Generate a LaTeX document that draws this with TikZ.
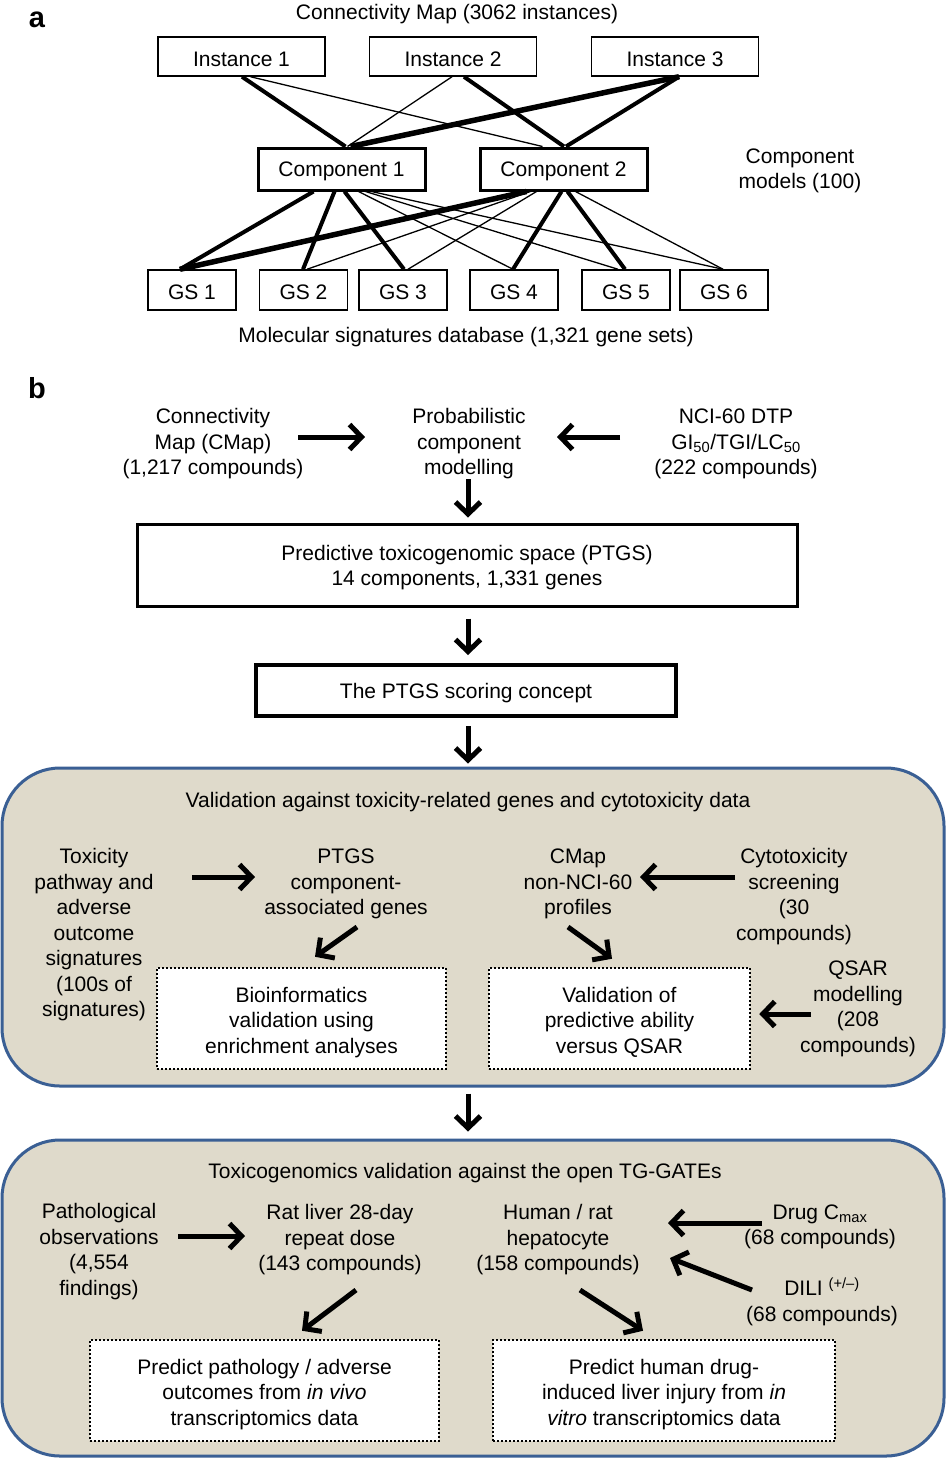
\documentclass[tikz,border=0pt]{standalone}
\usepackage{fontspec}
\setmainfont{Liberation Sans}
\usetikzlibrary{arrows.meta,calc}
\definecolor{panelfill}{RGB}{223,218,203}
\definecolor{panelborder}{RGB}{58,95,148}
\newcommand\mlines[2][-3pt]{\raisebox{#1}[\height][\depth]{\begin{tabular}{@{}c@{}}#2\end{tabular}}}
\begin{document}
\begin{tikzpicture}[x=1pt,y=-1pt,
 every node/.style={font=\fontsize{21}{25.5}\selectfont, inner sep=0pt,
   execute at begin node={\rule{0pt}{19.5pt}}},
 lbl/.style={font=\fontsize{29}{30}\bfseries\selectfont},
 thinbox/.style={draw, line width=1.5pt, minimum width=167pt, minimum height=39pt},
 compbox/.style={draw, line width=3pt, minimum width=167pt, minimum height=42pt},
 gsbox/.style={draw, line width=1.5pt, minimum width=88pt, minimum height=40pt},
 thinl/.style={line width=1.3pt},
 thickl/.style={line width=4pt},
 vthickl/.style={line width=5.5pt},
 bigarrow/.style={line width=5pt, -{Straight Barb[length=12pt,width=25pt]}},
 dotbox/.style={draw, line width=2.5pt, dash pattern=on 2pt off 2pt, fill=white},
 panel/.style={draw=panelborder, line width=3pt, fill=panelfill, rounded corners=58pt},
]
\useasboundingbox (0,0) rectangle (946,1459);
\fill[white] (0,0) rectangle (946,1459);

% ---------- part a ----------
\node[lbl] (la) at (37,18) {a};
\node (cmtitle) at (457,12) {Connectivity Map (3062 instances)};
\node[thinbox] (i1) at (241.5,56.5) {Instance 1};
\node[thinbox] (i2) at (453,56.5) {Instance 2};
\node[thinbox] (i3) at (675,56.5) {Instance 3};
\node[compbox] (c1) at (341.5,169) {Component 1};
\node[compbox] (c2) at (563.5,169) {Component 2};
\node (cmod) at (800,168) {\mlines{Component\\models (100)}};
\node[gsbox] (g1) at (192,290) {GS 1};
\node[gsbox] (g2) at (303.5,290) {GS 2};
\node[gsbox] (g3) at (403,290) {GS 3};
\node[gsbox] (g4) at (514,290) {GS 4};
\node[gsbox] (g5) at (626,290) {GS 5};
\node[gsbox] (g6) at (724,290) {GS 6};
\node (msd) at (466,335) {Molecular signatures database (1,321 gene sets)};

% instance -> component
\draw[thickl] ($(i1.south)+(0.5,0)$) -- ($(c1.north)+(4,0)$);
\draw[thinl] ($(i1.south)+(9,0)$) -- ($(c2.north)+(-21,0)$);
\draw[thinl] ($(i2.south)+(-1,0)$) -- ($(c1.north)+(6,0)$);
\draw[thickl] ($(i2.south)+(11,0)$) -- ($(c2.north)+(0.5,0)$);
\draw[vthickl] ($(i3.south)+(4,0)$) -- ($(c1.north)+(9,0)$);
\draw[thickl] ($(i3.south)+(4,0)$) -- ($(c2.north)+(2.5,0)$);

% component -> gene sets
\draw[thickl] ($(c1.south)+(-28,0)$) -- ($(g1.north)+(-12,0)$);
\draw[thickl] ($(c1.south)+(-7,0)$) -- ($(g2.north)+(-0.5,0)$);
\draw[thickl] ($(c1.south)+(3,0)$) -- ($(g3.north)+(1,0)$);
\draw[thinl] ($(c1.south)+(17,0)$) -- ($(g4.north)+(-1,0)$);
\draw[thinl] ($(c1.south)+(24,0)$) -- ($(g5.north)+(-8,0)$);
\draw[thinl] ($(c1.south)+(30,0)$) -- ($(g6.north)+(-1,0)$);
\draw[vthickl] ($(c2.south)+(-37,0)$) -- ($(g1.north)+(-12,0)$);
\draw[thinl] ($(c2.south)+(-33,0)$) -- ($(g2.north)+(3.5,0)$);
\draw[thinl] ($(c2.south)+(-27,0)$) -- ($(g3.north)+(5,0)$);
\draw[thickl] ($(c2.south)+(-2,0)$) -- ($(g4.north)+(-1,0)$);
\draw[thickl] ($(c2.south)+(4,0)$) -- ($(g5.north)+(-1,0)$);
\draw[thinl] ($(c2.south)+(12,0)$) -- ($(g6.north)+(-1,0)$);

% ---------- part b ----------
\node[lbl] (lb) at (37,388) {b};
\node (cmap) at (213,441) {\mlines{Connectivity\\Map (CMap)\\(1,217 compounds)}};
\node (prob) at (469,441) {\mlines{Probabilistic\\component\\modelling}};
\node (nci) at (736,441) {\mlines{NCI-60 DTP\\GI\textsubscript{50}/TGI/LC\textsubscript{50}\\(222 compounds)}};
\node[draw, line width=3pt, minimum width=660pt, minimum height=82pt] (ptgs) at (467,565) {\mlines{Predictive toxicogenomic space (PTGS)\\14 components, 1,331 genes}};
\node[draw, line width=4pt, minimum width=420pt, minimum height=51pt] (score) at (466,690.5) {The PTGS scoring concept};

\draw[bigarrow] ($(cmap)+(85,-4)$) -- ($(prob)+(-104,-4)$);
\draw[bigarrow] ($(nci)+(-116,-4)$) -- ($(prob)+(88,-4)$);
\draw[bigarrow] ($(prob)+(-1,38)$) -- ($(ptgs.north)+(1,-5)$);
\draw[bigarrow] ($(ptgs.south)+(1,11)$) -- ($(score.north)+(2,-8)$);

% panel 1
\node[panel, minimum width=942pt, minimum height=318pt] (p1) at (473,927) {};
\draw[bigarrow] ($(score.south)+(2,8)$) -- ($(p1.north)+(-5,-3)$);
\node (v1) at (468,800) {Validation against toxicity-related genes and cytotoxicity data};
\node (tox) at (94,932) {\mlines{Toxicity\\pathway and\\adverse\\outcome\\signatures\\(100s of\\signatures)}};
\node (pg) at (346,881) {\mlines{PTGS\\component-\\associated genes}};
\node[dotbox, minimum width=289pt, minimum height=101pt] (bio) at (301.5,1018.5) {\mlines[-4pt]{Bioinformatics\\validation using\\enrichment analyses}};
\node (cn) at (578,881) {\mlines{CMap\\non-NCI-60\\profiles}};
\node (cy) at (794,894) {\mlines{Cytotoxicity\\screening\\(30\\compounds)}};
\node[dotbox, minimum width=261pt, minimum height=101pt] (val) at (619.5,1018.5) {\mlines[-4pt]{Validation of\\predictive ability\\versus QSAR}};
\node (qs) at (858,1006) {\mlines{QSAR\\modelling\\(208\\compounds)}};

\draw[bigarrow] ($(tox)+(98,-55)$) -- ($(pg)+(-91,-4)$);
\draw[bigarrow] ($(pg)+(11,46)$) -- ($(bio.north)+(13.5,-10)$);
\draw[bigarrow] ($(cy)+(-59,-17)$) -- ($(cn)+(62,-4)$);
\draw[bigarrow] ($(cn)+(-10,46)$) -- ($(val.north)+(-7.5,-8)$);
\draw[bigarrow] ($(qs)+(-47,8)$) -- ($(val.east)+(8,-4.5)$);

% panel 2
\node[panel, minimum width=942pt, minimum height=316pt] (p2) at (473,1298) {};
\draw[bigarrow] ($(p1.south)+(-5,6)$) -- ($(p2.north)+(-5,-7)$);
\node (v2) at (465,1171) {Toxicogenomics validation against the open TG-GATEs};
\node (path) at (99,1249) {\mlines{Pathological\\observations\\(4,554\\findings)}};
\node (rat) at (340,1237) {\mlines{Rat liver 28-day\\repeat dose\\(143 compounds)}};
\node[dotbox, minimum width=349pt, minimum height=101pt] (pp) at (264.5,1390.5) {\mlines[-4pt]{Predict pathology / adverse\\outcomes from \textit{in vivo}\\transcriptomics data}};
\node (hh) at (558,1237) {\mlines{Human / rat\\hepatocyte\\(158 compounds)}};
\node (drug) at (820,1224) {\mlines{Drug C\textsubscript{max}\\(68 compounds)}};
\node (dili) at (822,1300) {\mlines{DILI \textsuperscript{(+/–)}\\(68 compounds)}};
\node[dotbox, minimum width=342pt, minimum height=101pt] (ph) at (664,1390.5) {\mlines[-4pt]{Predict human drug-\\induced liver injury from \textit{in}\\\textit{vitro} transcriptomics data}};

\draw[bigarrow] ($(path)+(79,-13)$) -- ($(rat)+(-95,-1)$);
\draw[bigarrow] ($(rat)+(16,53)$) -- ($(pp.north)+(37.5,-8)$);
\draw[bigarrow] ($(drug)+(-58,-1)$) -- ($(hh)+(110,-14)$);
\draw[bigarrow] ($(dili)+(-70,-10)$) -- ($(hh)+(112,21)$);
\draw[bigarrow] ($(hh)+(22,53)$) -- ($(ph.north)+(-21,-8)$);
\end{tikzpicture}
\end{document}
